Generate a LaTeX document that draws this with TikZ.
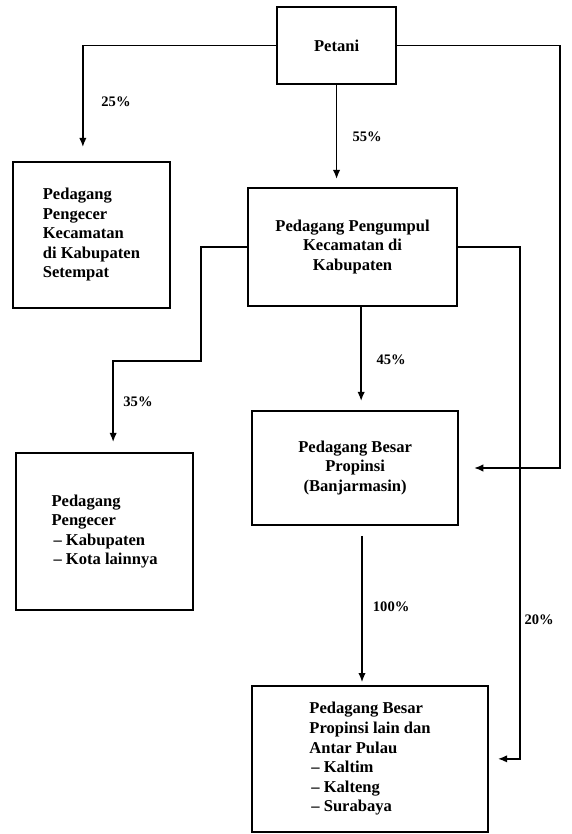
\documentclass[tikz,border=0pt]{standalone}
\usepackage{fontspec}
\setmainfont{Liberation Serif}
\usetikzlibrary{arrows.meta}
\tikzset{
  box/.style={draw, line width=1.7pt, inner sep=3pt, font=\bfseries\fontsize{16.5}{19.5}\selectfont},
  kmid/.style={box, align=center}, kleft/.style={box, align=left},
  klabel/.style={font=\bfseries\fontsize{14.5}{17}\selectfont, inner sep=1pt},
  flow/.style={-{Latex[length=3.2mm, width=2.6mm]}, line width=1.5pt},
}

\begin{document}
\begin{tikzpicture}
    \useasboundingbox (0,0) rectangle (19.99,29.19);
    \node[kmid, minimum width=4.17cm, minimum height=2.70cm] (petani) at (11.78,27.60) {Petani};
    \node[kleft, minimum width=5.50cm, minimum height=5.11cm] (kec) at (3.20,20.97) {Pedagang\\Pengecer\\Kecamatan\\di Kabupaten\\Setempat};
    \node[kmid, minimum width=7.32cm, minimum height=4.13cm] (kumpul) at (12.34,20.55) {Pedagang Pengumpul\\Kecamatan di\\Kabupaten};
    \node[kleft, minimum width=6.20cm, minimum height=5.50cm] (kab) at (3.66,10.59) {Pedagang\\Pengecer\\\hspace*{2pt}– Kabupaten\\\hspace*{2pt}– Kota lainnya};
    \node[kmid, minimum width=7.21cm, minimum height=3.99cm] (banjar) at (12.43,12.81) {Pedagang Besar\\Propinsi\\(Banjarmasin)};
    \node[kleft, minimum width=8.26cm, minimum height=5.11cm] (antar) at (12.95,2.63) {Pedagang Besar\\Propinsi lain dan\\Antar Pulau\\\hspace*{2pt}– Kaltim\\\hspace*{2pt}– Kalteng\\\hspace*{2pt}– Surabaya};
    \coordinate (rbend) at (19.60,12.81);
    \coordinate (lbend) at (7.04,16.56);
    \coordinate (mbend) at (18.20,2.63);
    \draw[flow, shorten >=0.49cm] (petani.west) -| ([xshift=-0.30cm]kec.north);
    \draw[flow, shorten >=0.28cm] (petani.south) -- (petani.south |- kumpul.north);
    \draw[flow, shorten >=0.53cm] (petani.east) -| (rbend) -- (banjar.east);
    \draw[flow, shorten >=0.35cm] (kumpul.west) -| (lbend) -| ([xshift=0.30cm]kab.north);
    \draw[flow, shorten >=0.32cm] (kumpul.east) -| (mbend) -- (antar.east);
    \draw[flow, shorten >=0.32cm] ([xshift=0.30cm]kumpul.south) -- ([xshift=0.30cm]kumpul.south |- banjar.north);
    \draw[flow, shorten <=0.35cm, shorten >=0.10cm] ([xshift=0.24cm]banjar.south) -- ([xshift=0.24cm]banjar.south |- antar.north);
    \node[klabel] (p25) at (4.06,25.62) {25\%};
    \node[klabel] (p55) at (12.85,24.40) {55\%};
    \node[klabel] (p45) at (13.69,16.59) {45\%};
    \node[klabel] (p35) at (4.83,15.12) {35\%};
    \node[klabel] (p100) at (13.69,7.95) {100\%};
    \node[klabel] (p20) at (18.87,7.49) {20\%};
  \end{tikzpicture}
\end{document}
